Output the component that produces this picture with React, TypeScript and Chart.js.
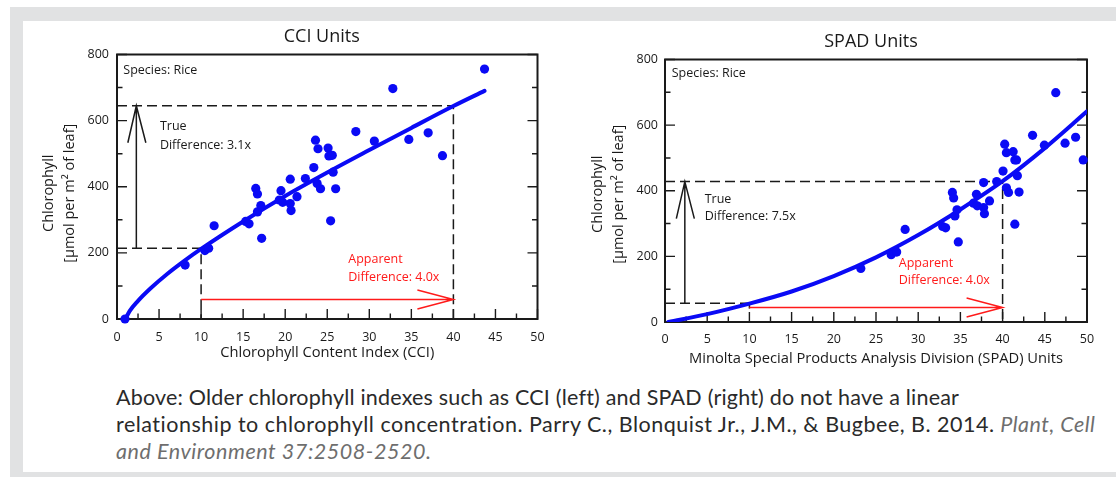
import React, { useEffect, useRef } from "react";
import { Chart, registerables } from "chart.js";

Chart.register(...registerables);

// ---------------- data ----------------
// CCI panel: measured points
const cciIndex = [0.95, 8.1, 10.45, 10.9, 11.55, 15.3, 15.7, 16.5, 16.7, 16.7, 17.1, 17.2, 19.3, 19.5, 19.7, 20.6, 20.6, 20.7, 21.4, 22.4, 23.4, 23.6, 23.9, 23.8, 24.2, 25.1, 25.2, 25.6, 25.4, 25.7, 26.0, 28.4, 30.6, 32.8, 34.7, 37.0, 38.7, 43.7];
const cciChlorophyll = [0, 163, 207, 214, 282, 295, 288, 395, 378, 324, 343, 244, 360, 388, 353, 423, 349, 328, 370, 425, 458, 541, 515, 410, 394, 517, 493, 495, 297, 444, 394, 567, 538, 697, 543, 563, 494, 756];
// CCI panel: fitted curve
const cciFitIndex = [1, 1.5, 2.5, 4, 6, 8, 10, 15, 20, 25, 30, 35, 40, 43.7];
const cciFitChlorophyll = [0, 24, 55, 93, 137, 176, 212, 295, 372, 443, 511, 578, 644, 690];

// SPAD panel: measured points
const spadUnits = [23.2, 26.8, 27.45, 28.45, 32.9, 33.25, 34.05, 34.2, 34.35, 34.6, 34.75, 36.55, 36.9, 37.0, 37.75, 37.75, 37.85, 38.45, 39.3, 40.05, 40.25, 40.45, 40.45, 40.7, 41.25, 41.45, 41.65, 41.45, 41.75, 41.95, 43.55, 44.95, 46.3, 47.4, 48.65, 49.55];
const spadChlorophyll = [163, 205, 213, 282, 291, 287, 395, 378, 323, 342, 244, 362, 389, 354, 425, 349, 330, 369, 428, 460, 542, 516, 409, 395, 519, 494, 494, 298, 446, 396, 569, 539, 699, 545, 563, 494];
// SPAD panel: fitted curve
const spadFitUnits = [0.4, 5, 10, 15, 20, 25, 30, 35, 40, 45, 50];
const spadFitChlorophyll = [0, 24, 56, 93, 140, 197, 265, 343, 429, 530, 642];

// ticks
const xTickValues = [0, 5, 10, 15, 20, 25, 30, 35, 40, 45, 50];
const xMinorTickValues = [2.5, 7.5, 12.5, 17.5, 22.5, 27.5, 32.5, 37.5, 42.5, 47.5];
const yTickValues = [0, 200, 400, 600, 800];
const yMinorTickValues = [100, 300, 500, 700];

// guide lines (data units): [low, high]
const cciGuideX = [10, 40];
const cciGuideY = [214, 645];
const spadGuideX = [10, 40];
const spadGuideY = [57, 428];

const yTitleLines = ["Chlorophyll", "[µmol per m² of leaf]"];

// ---------------- styling ----------------
const FONT = "'Open Sans', 'Noto Sans', 'DejaVu Sans', sans-serif";
const BLUE = "#0a0af5";
const INK = "#1a1a1a";
const RED = "#ff1a1a";

const figurePlugin = {
  id: "figure",
  beforeDatasetsDraw(chart: any, _args: any, o: any) {
    const { ctx, chartArea: a } = chart;
    const xs = chart.scales.x;
    const ys = chart.scales.y;
    const px = (v: number) => xs.getPixelForValue(v);
    const py = (v: number) => ys.getPixelForValue(v);
    ctx.save();

    // dashed guides
    ctx.strokeStyle = INK;
    ctx.lineWidth = 1.5;
    ctx.setLineDash([10, 5]);
    ctx.beginPath();
    ctx.moveTo(a.left, py(o.guideY[1]));
    ctx.lineTo(px(o.guideX[1]), py(o.guideY[1]));
    ctx.lineTo(px(o.guideX[1]), a.bottom);
    ctx.stroke();
    ctx.beginPath();
    ctx.moveTo(a.left, py(o.guideY[0]));
    ctx.lineTo(px(o.guideX[0]), py(o.guideY[0]));
    if (o.lowVertical) ctx.lineTo(px(o.guideX[0]), a.bottom);
    ctx.stroke();
    ctx.setLineDash([]);
    if (!o.lowVertical) {
      ctx.beginPath();
      ctx.moveTo(px(o.guideX[0]), py(o.guideY[0]));
      ctx.lineTo(px(o.guideX[0]), py(o.redY) + 1);
      ctx.stroke();
    }

    // black "true difference" arrow
    const ax = px(o.arrowX);
    const ty = py(o.guideY[1]);
    ctx.lineWidth = 1.5;
    ctx.beginPath();
    ctx.moveTo(ax, py(o.guideY[0]));
    ctx.lineTo(ax, ty);
    ctx.moveTo(ax - 8.5, ty + 37);
    ctx.lineTo(ax, ty);
    ctx.lineTo(ax + 9.5, ty + 37);
    ctx.stroke();

    // red "apparent difference" arrow
    const rx0 = px(o.guideX[0]);
    const rx1 = px(o.guideX[1]);
    const ry = py(o.redY);
    ctx.strokeStyle = RED;
    ctx.lineWidth = 1.5;
    ctx.beginPath();
    ctx.moveTo(rx0, ry);
    ctx.lineTo(rx1, ry);
    ctx.moveTo(rx1 - 36, ry - 9.5);
    ctx.lineTo(rx1, ry);
    ctx.lineTo(rx1 - 36, ry + 9.5);
    ctx.stroke();

    // inner ticks
    ctx.strokeStyle = INK;
    ctx.lineWidth = 1.4;
    ctx.beginPath();
    xTickValues.forEach((v) => {
      ctx.moveTo(px(v), a.bottom);
      ctx.lineTo(px(v), a.bottom - 10);
    });
    xMinorTickValues.forEach((v) => {
      ctx.moveTo(px(v), a.bottom);
      ctx.lineTo(px(v), a.bottom - 5.5);
    });
    yTickValues.forEach((v) => {
      ctx.moveTo(a.left, py(v));
      ctx.lineTo(a.left + 10, py(v));
      ctx.moveTo(a.right, py(v));
      ctx.lineTo(a.right - 10, py(v));
    });
    yMinorTickValues.forEach((v) => {
      ctx.moveTo(a.left, py(v));
      ctx.lineTo(a.left + 5.5, py(v));
      ctx.moveTo(a.right, py(v));
      ctx.lineTo(a.right - 5.5, py(v));
    });
    ctx.stroke();

    // frame
    ctx.lineWidth = 2;
    ctx.strokeRect(a.left, a.top, a.right - a.left, a.bottom - a.top);

    // texts inside the plot
    ctx.font = `12.5px ${FONT}`;
    ctx.textBaseline = "middle";
    ctx.textAlign = "left";
    (o.labels || []).forEach((l: any) => {
      ctx.fillStyle = l.color;
      ctx.fillText(l.text, px(l.x), py(l.y));
    });

    // chart title (centred a little left of the plot centre, as in the source)
    ctx.fillStyle = INK;
    ctx.font = `18px ${FONT}`;
    ctx.textAlign = "center";
    ctx.fillText(o.title, (a.left + a.right) / 2 + o.titleShiftX, o.titleY);

    // rotated y-axis title (two lines)
    ctx.font = `14.5px ${FONT}`;
    ctx.translate(o.yTitleX, (a.top + a.bottom) / 2 + o.yTitleShift);
    ctx.rotate(-Math.PI / 2);
    yTitleLines.forEach((t, i) => ctx.fillText(t, 0, i * 20.5));
    ctx.restore();
  },
};

type Spec = {
  topPad: number;
  xTitle: string;
  xs: number[];
  ys: number[];
  fitX: number[];
  fitY: number[];
  padRight: number;
  yWidth: number;
  xHeight: number;
  xTickPad: number;
  yTickPad: number;
  xTitlePad: number;
  figure: any;
};

function makeConfig(s: Spec): any {
  const tickFont = { family: FONT, size: 12.5 };
  return {
    type: "scatter",
    data: {
      datasets: [
        {
          type: "scatter",
          data: s.xs.map((x, i) => ({ x, y: s.ys[i] })),
          pointRadius: 4.6,
          pointBackgroundColor: BLUE,
          pointBorderWidth: 0,
          clip: false,
          order: 1,
        },
        {
          type: "line",
          data: s.fitX.map((x, i) => ({ x, y: s.fitY[i] })),
          borderColor: BLUE,
          borderWidth: 4,
          borderCapStyle: "round",
          pointRadius: 0,
          cubicInterpolationMode: "monotone",
          fill: false,
          order: 2,
        },
      ],
    },
    options: {
      animation: false,
      responsive: false,
      events: [],
      layout: { padding: { top: s.topPad, left: 0, right: s.padRight, bottom: 0 } },
      plugins: {
        legend: { display: false },
        tooltip: { enabled: false },
        title: { display: false },
        figure: s.figure,
      },
      scales: {
        x: {
          type: "linear",
          position: "bottom",
          min: 0,
          max: 50,
          afterBuildTicks: (sc: any) => {
            sc.ticks = xTickValues.map((v) => ({ value: v }));
          },
          afterFit: (sc: any) => {
            sc.height = s.xHeight;
          },
          grid: { display: false, drawTicks: false },
          border: { display: false },
          ticks: { color: INK, font: tickFont, padding: s.xTickPad, autoSkip: false, maxRotation: 0 },
          title: {
            display: true,
            text: s.xTitle,
            color: INK,
            font: { family: FONT, size: 14.7, lineHeight: 1.2 },
            padding: { top: 0, bottom: s.xTitlePad },
          },
        },
        y: {
          type: "linear",
          position: "left",
          min: 0,
          max: 800,
          afterBuildTicks: (sc: any) => {
            sc.ticks = yTickValues.map((v) => ({ value: v }));
          },
          afterFit: (sc: any) => {
            sc.width = s.yWidth;
          },
          grid: { display: false, drawTicks: false },
          border: { display: false },
          ticks: { color: INK, font: tickFont, padding: s.yTickPad },
        },
      },
    },
    plugins: [figurePlugin],
  };
}

const cciSpec: Spec = {
  topPad: 54.5,
  xTitle: "Chlorophyll Content Index (CCI)",
  xs: cciIndex,
  ys: cciChlorophyll,
  fitX: cciFitIndex,
  fitY: cciFitChlorophyll,
  padRight: 22.5,
  yWidth: 117,
  xHeight: 58,
  xTickPad: 10.5,
  yTickPad: 8,
  xTitlePad: 15.2,
  figure: {
    title: "CCI Units",
    titleY: 37,
    titleShiftX: -5.5,
    guideX: cciGuideX,
    guideY: cciGuideY,
    lowVertical: true,
    arrowX: 2.3,
    redY: 59,
    yTitleX: 49,
    yTitleShift: 6.5,
    labels: [
      { text: "Species: Rice", x: 0.75, y: 753, color: INK },
      { text: "True", x: 5.1, y: 583, color: INK },
      { text: "Difference: 3.1x", x: 5.1, y: 524, color: INK },
      { text: "Apparent", x: 27.5, y: 181, color: RED },
      { text: "Difference: 4.0x", x: 27.5, y: 125, color: RED },
    ],
  },
};

const spadSpec: Spec = {
  topPad: 59.5,
  xTitle: "Minolta Special Products Analysis Division (SPAD) Units",
  xs: spadUnits,
  ys: spadChlorophyll,
  fitX: spadFitUnits,
  fitY: spadFitChlorophyll,
  padRight: 29,
  yWidth: 105,
  xHeight: 55,
  xTickPad: 9.5,
  yTickPad: 7,
  xTitlePad: 9.8,
  figure: {
    title: "SPAD Units",
    titleY: 42,
    titleShiftX: -5,
    guideX: spadGuideX,
    guideY: spadGuideY,
    lowVertical: false,
    arrowX: 2.35,
    redY: 44,
    yTitleX: 38,
    yTitleShift: 3.5,
    labels: [
      { text: "Species: Rice", x: 0.8, y: 757, color: INK },
      { text: "True", x: 4.7, y: 374, color: INK },
      { text: "Difference: 7.5x", x: 4.7, y: 322, color: INK },
      { text: "Apparent", x: 27.7, y: 178, color: RED },
      { text: "Difference: 4.0x", x: 27.7, y: 127, color: RED },
    ],
  },
};

function Panel({ spec, left, width }: { spec: Spec; left: number; width: number }) {
  const ref = useRef<HTMLCanvasElement | null>(null);
  useEffect(() => {
    if (!ref.current) return;
    const chart = new Chart(ref.current, makeConfig(spec));
    return () => chart.destroy();
  }, [spec]);
  return (
    <canvas
      ref={ref}
      width={width}
      height={377}
      style={{ position: "absolute", left, top: 0, width, height: 377 }}
    />
  );
}

export default function App() {
  return (
    <div
      style={{
        position: "absolute",
        left: 0,
        top: 0,
        width: 1116,
        height: 477,
        background: "#ffffff",
        overflow: "hidden",
      }}
    >
      <div style={{ position: "absolute", left: 10, top: 7, width: 1106, height: 470, background: "#e1e2e3" }} />
      <div style={{ position: "absolute", left: 23, top: 21, width: 1093, height: 451, background: "#ffffff" }} />
      <Panel spec={cciSpec} left={0} width={560} />
      <Panel spec={spadSpec} left={560} width={556} />
      <div
        style={{
          position: "absolute",
          left: 116,
          top: 383.5,
          whiteSpace: "nowrap",
          fontFamily: "Lato, 'Open Sans', sans-serif",
          fontSize: 21.5,
          letterSpacing: "0.2px",
          lineHeight: "27px",
          color: "#2a2a2a",
        }}
      >
        Above: Older chlorophyll indexes such as CCI (left) and SPAD (right) do not have a linear
        <br />
        <span style={{ letterSpacing: "0.5px" }}>
          relationship to chlorophyll concentration. Parry C., Blonquist Jr., J.M., &amp; Bugbee, B. 2014.
        </span>{" "}
        <i style={{ color: "#6e6e6e", letterSpacing: "0.5px" }}>Plant, Cell</i>
        <br />
        <i style={{ color: "#6e6e6e", letterSpacing: "0.55px" }}>and Environment 37:2508-2520.</i>
      </div>
    </div>
  );
}
